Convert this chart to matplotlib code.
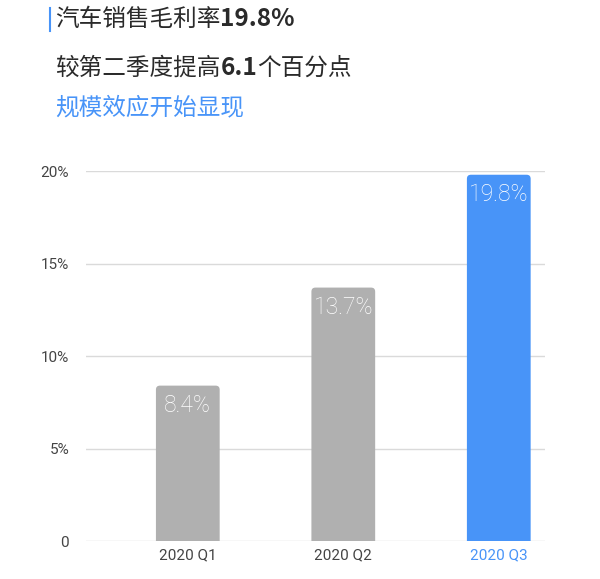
import matplotlib.pyplot as plt
import numpy as np
from matplotlib.patches import FancyBboxPatch
from matplotlib.lines import Line2D

quarters = ["2020 Q1", "2020 Q2", "2020 Q3"]
margins = [8.4, 13.7, 19.8]
labels = ["8.4%", "13.7%", "19.8%"]
yticks = [0, 5, 10, 15, 20]
ytick_labels = ["0", "5%", "10%", "15%", "20%"]

gray = "#B0B0B0"
blue = "#4894F8"
text_dark = "#2A2A2A"
cjk = ["Noto Sans CJK SC", "DejaVu Sans"]

fig = plt.figure(figsize=(6.0, 5.79), dpi=100)
ax = fig.add_axes([0.143, 0.0656, 0.765, 0.639])

x = np.arange(len(quarters))
colors = [gray, gray, blue]
bars = ax.bar(x, margins, width=0.41, color=colors)

# swap the plain bars for ones with rounded top corners
for b in bars:
    x0, w, h = b.get_x(), b.get_width(), b.get_height()
    rb = FancyBboxPatch((x0, -2), w, h + 2,
                        boxstyle="round,pad=0,rounding_size=0.026",
                        mutation_aspect=8.4, fc=b.get_facecolor(), ec="none",
                        zorder=3)
    ax.add_patch(rb)
    b.set_visible(False)

for xi, v, lab in zip(x, margins, labels):
    ax.annotate(lab, (xi, v), xytext=(0, -6), textcoords="offset points",
                ha="center", va="top", color="white", fontsize=16.5,
                family="Roboto", weight="light", zorder=4)

ax.set_xlim(-0.656, 2.296)
ax.set_ylim(0, 20)
ax.set_yticks(yticks)
ax.set_yticklabels(ytick_labels)
ax.set_xticks(x)
ax.set_xticklabels(quarters)
for s in ax.spines.values():
    s.set_visible(False)
ax.tick_params(length=0, labelsize=11, labelcolor="#444444")
ax.tick_params(axis="y", pad=12)
ax.tick_params(axis="x", pad=5)
for t in ax.get_xticklabels() + ax.get_yticklabels():
    t.set_family("Roboto")
    t.set_weight("normal")
ax.get_xticklabels()[2].set_color(blue)
ax.grid(axis="y", color="#DADADA", lw=1)
ax.set_axisbelow(True)
ax.grid(axis="x", visible=False)

# header lines, mixing regular and bold pieces
renderer = fig.canvas.get_renderer()


def write_line(parts, x_px, y_px, color):
    cur = x_px
    for txt, bold in parts:
        t = fig.text(cur / 600, 1 - y_px / 579, txt, family=cjk,
                     weight="bold" if bold else "normal",
                     fontsize=17.5 if bold else 17,
                     color=color, va="center", ha="left")
        bb = t.get_window_extent(renderer=renderer)
        cur += bb.width


write_line([("汽车销售毛利率", False), ("19.8%", True)], 55, 19, text_dark)
write_line([("较第二季度提高", False), ("6.1", True), ("个百分点", False)], 55, 68, text_dark)
write_line([("规模效应开始显现", False)], 55, 108, blue)

fig.add_artist(Line2D([50 / 600, 50 / 600], [1 - 8 / 579, 1 - 31 / 579],
                      color=blue, lw=1.5, transform=fig.transFigure))

fig.savefig("out.png", dpi=100, facecolor="white")
